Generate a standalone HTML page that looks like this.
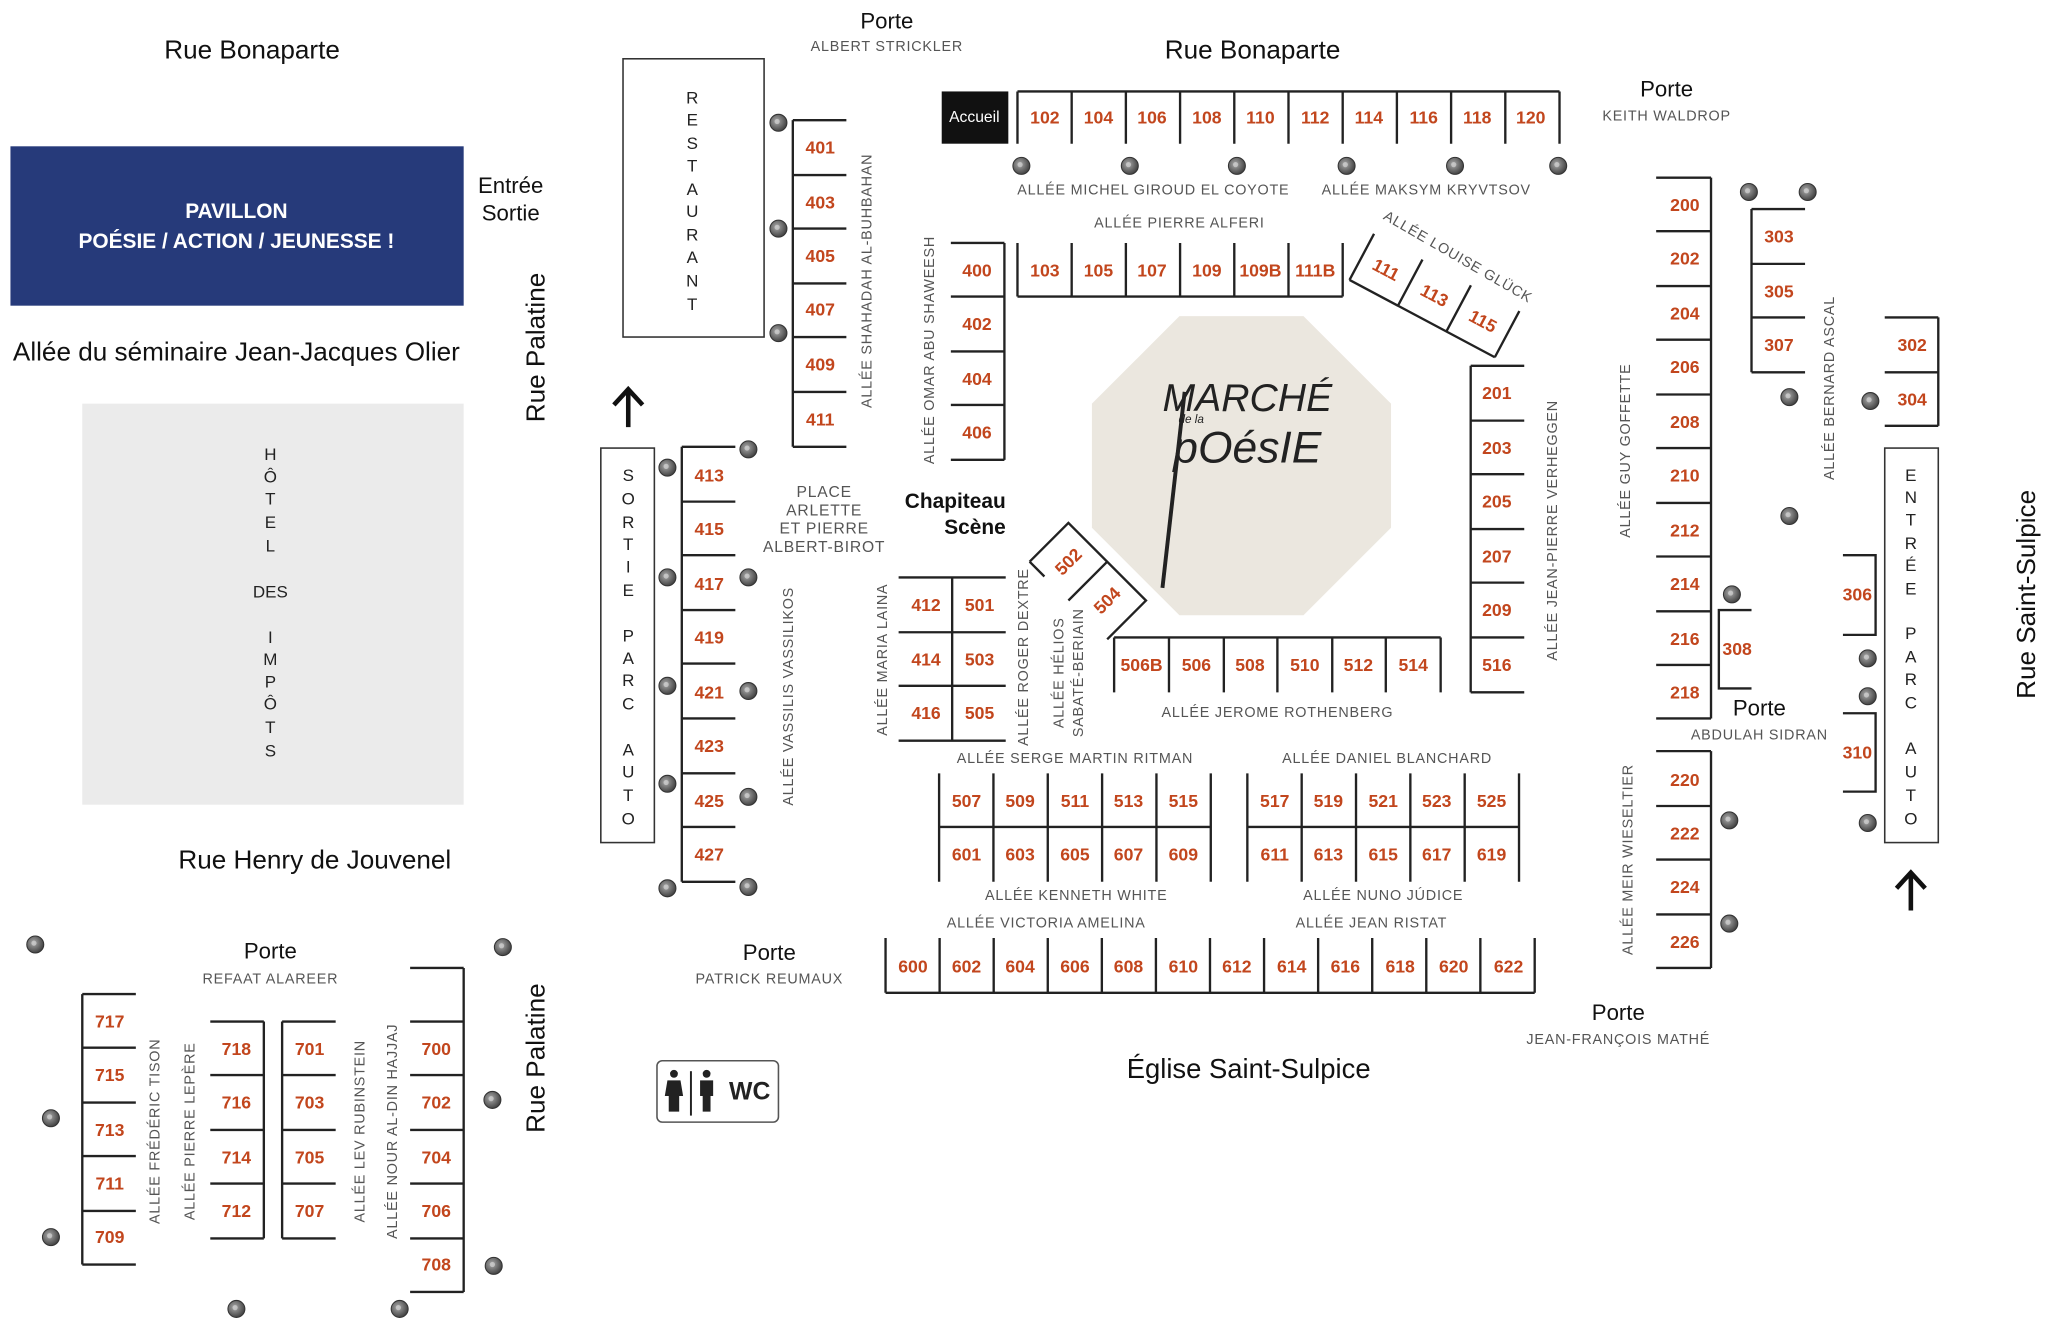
<!DOCTYPE html>
<html><head><meta charset="utf-8"><style>
html,body{margin:0;padding:0;background:#fff}
svg{display:block}
.n{font-family:"Liberation Sans",sans-serif;font-size:13.5px;font-weight:bold;fill:#c2461d;text-anchor:middle;dominant-baseline:central}
.s{font-family:"Liberation Sans",sans-serif;font-size:11px;fill:#555;text-anchor:middle;dominant-baseline:central;letter-spacing:0.6px}
.t{font-family:"Liberation Sans",sans-serif;font-size:20px;fill:#111;text-anchor:middle;dominant-baseline:central}
.p{font-family:"Liberation Sans",sans-serif;font-size:17px;fill:#111;text-anchor:middle;dominant-baseline:central}
.l{font-family:"Liberation Sans",sans-serif;font-size:13px;fill:#222;text-anchor:middle;dominant-baseline:central}
.b{fill:none;stroke:#222;stroke-width:1.8}
</style></head><body>
<svg width="2048" height="1322" viewBox="0 0 1568 1012" preserveAspectRatio="none" xmlns="http://www.w3.org/2000/svg">
<defs><radialGradient id="tr" cx="40%" cy="40%" r="60%"><stop offset="0" stop-color="#aaa"/><stop offset="1" stop-color="#444"/></radialGradient>
<g id="tree"><circle r="6.5" fill="url(#tr)" stroke="#333" stroke-width="0.8"/><circle r="2" cx="-1" cy="-1" fill="#ddd" opacity=".6"/></g></defs>

<text class="t" x="193" y="38">Rue Bonaparte</text>
<rect x="8" y="112" width="347" height="122" fill="#263a7a"/>
<text class="p" x="181" y="162" style="fill:#fff;font-weight:bold;font-size:16px">PAVILLON</text>
<text class="p" x="181" y="185" style="fill:#fff;font-weight:bold;font-size:16px">POÉSIE / ACTION / JEUNESSE !</text>
<text class="p" x="391" y="142">Entrée</text>
<text class="p" x="391" y="163">Sortie</text>
<text class="t" x="181" y="269">Allée du séminaire Jean-Jacques Olier</text>
<rect x="63" y="309" width="292" height="307" fill="#ebebeb"/>
<g class="l"><text x="207" y="348">H</text><text x="207" y="365">Ô</text><text x="207" y="382">T</text><text x="207" y="400">E</text><text x="207" y="418">L</text><text x="207" y="453">DES</text><text x="207" y="488">I</text><text x="207" y="505">M</text><text x="207" y="522">P</text><text x="207" y="539">Ô</text><text x="207" y="557">T</text><text x="207" y="575">S</text></g>
<text class="t" x="241" y="658">Rue Henry de Jouvenel</text>
<text class="t" transform="translate(410,266) rotate(-90)">Rue Palatine</text>
<text class="t" transform="translate(410,810) rotate(-90)">Rue Palatine</text>
<text class="t" transform="translate(1551,455) rotate(-90)">Rue Saint-Sulpice</text>

<path d="M481 327 V300 M470 310 L481 298 L492 310" stroke="#111" stroke-width="3.5" fill="none"/>
<path d="M1463 697 V670 M1452 680 L1463 668 L1474 680" stroke="#111" stroke-width="3.5" fill="none"/>

<rect x="477" y="45" width="108" height="213" fill="none" stroke="#333" stroke-width="1.2"/>
<g class="l"><text x="530" y="75">R</text><text x="530" y="92">E</text><text x="530" y="110">S</text><text x="530" y="127">T</text><text x="530" y="145">A</text><text x="530" y="162">U</text><text x="530" y="180">R</text><text x="530" y="197">A</text><text x="530" y="215">N</text><text x="530" y="233">T</text></g>
<rect x="460" y="343" width="41" height="302" fill="none" stroke="#333" stroke-width="1.2"/>
<g class="l"><text x="481" y="364">S</text><text x="481" y="382">O</text><text x="481" y="400">R</text><text x="481" y="417">T</text><text x="481" y="434">I</text><text x="481" y="452">E</text><text x="481" y="487">P</text><text x="481" y="504">A</text><text x="481" y="521">R</text><text x="481" y="539">C</text><text x="481" y="574">A</text><text x="481" y="591">U</text><text x="481" y="609">T</text><text x="481" y="627">O</text></g>
<rect x="1443" y="343" width="41" height="302" fill="none" stroke="#333" stroke-width="1.2"/>
<g class="l"><text x="1463" y="364">E</text><text x="1463" y="381">N</text><text x="1463" y="398">T</text><text x="1463" y="416">R</text><text x="1463" y="433">É</text><text x="1463" y="451">E</text><text x="1463" y="485">P</text><text x="1463" y="503">A</text><text x="1463" y="520">R</text><text x="1463" y="538">C</text><text x="1463" y="573">A</text><text x="1463" y="591">U</text><text x="1463" y="609">T</text><text x="1463" y="627">O</text></g>

<text class="p" x="679" y="16">Porte</text><text class="s" x="679" y="36">ALBERT STRICKLER</text>
<text class="p" x="1276" y="68">Porte</text><text class="s" x="1276" y="89">KEITH WALDROP</text>
<text class="p" x="1347" y="542">Porte</text><text class="s" x="1347" y="563">ABDULAH SIDRAN</text>
<text class="p" x="1239" y="775">Porte</text><text class="s" x="1239" y="796">JEAN-FRANÇOIS MATHÉ</text>
<text class="p" x="589" y="729">Porte</text><text class="s" x="589" y="750">PATRICK REUMAUX</text>
<text class="p" x="207" y="728">Porte</text><text class="s" x="207" y="750">REFAAT ALAREER</text>
<text class="t" x="959" y="38">Rue Bonaparte</text>
<text class="t" x="956" y="818" style="font-size:21px">Église Saint-Sulpice</text>

<polygon points="903,242 998,242 1065,309 1065,404 998,471 903,471 836,404 836,309" fill="#ebe7df"/>
<text x="955" y="305" style="font-family:'Liberation Sans',sans-serif;font-style:italic;font-size:30px;fill:#222;text-anchor:middle;dominant-baseline:central">MARCHÉ</text>
<text x="912" y="324" style="font-family:'Liberation Sans',sans-serif;font-style:italic;font-size:9px;fill:#222;text-anchor:middle">de la</text>
<text x="955" y="343" style="font-family:'Liberation Sans',sans-serif;font-style:italic;font-size:34px;fill:#222;text-anchor:middle;dominant-baseline:central">pOésIE</text>
<path d="M907 300 L890 450" stroke="#222" stroke-width="3"/>

<rect x="721" y="70" width="51" height="40" fill="#111"/>
<text x="746" y="90" style="font-family:'Liberation Sans',sans-serif;font-size:12px;fill:#fff;text-anchor:middle;dominant-baseline:central">Accueil</text>
<path class="b" d="M779 70 H1194 M779 70V110 M820.5 70V110 M862 70V110 M903.5 70V110 M945 70V110 M986.5 70V110 M1028 70V110 M1069.5 70V110 M1111 70V110 M1152.5 70V110 M1194 70V110"/>
<g class="n"><text x="800" y="90">102</text><text x="841" y="90">104</text><text x="882" y="90">106</text><text x="924" y="90">108</text><text x="965" y="90">110</text><text x="1007" y="90">112</text><text x="1048" y="90">114</text><text x="1090" y="90">116</text><text x="1131" y="90">118</text><text x="1172" y="90">120</text></g>
<text class="s" x="883" y="146">ALLÉE MICHEL GIROUD EL COYOTE</text>
<text class="s" x="1092" y="146">ALLÉE MAKSYM KRYVTSOV</text>
<text class="s" x="903" y="171">ALLÉE PIERRE ALFERI</text>
<path class="b" d="M779 227 H1028 M779 186V227 M820.5 186V227 M862 186V227 M903.5 186V227 M945 186V227 M986.5 186V227 M1028 186V227"/>
<g class="n"><text x="800" y="207">103</text><text x="841" y="207">105</text><text x="882" y="207">107</text><text x="924" y="207">109</text><text x="965" y="207">109B</text><text x="1007" y="207">111B</text></g>
<g transform="translate(1052,179) rotate(28)">
<path class="b" d="M0 40 H126 M0 0V40 M42 0V40 M84 0V40 M126 0V40"/>
<g class="n"><text x="21" y="20">111</text><text x="63" y="20">113</text><text x="105" y="20">115</text></g>
</g>
<text class="s" transform="translate(1116,197) rotate(30)">ALLÉE LOUISE GLÜCK</text>

<path class="b" d="M769 186V352 M728 186H769 M728 227H769 M728 269H769 M728 310H769 M728 352H769"/>
<g class="n"><text x="748" y="207">400</text><text x="748" y="248">402</text><text x="748" y="290">404</text><text x="748" y="331">406</text></g>
<text class="s" transform="translate(712,268) rotate(-90)">ALLÉE OMAR ABU SHAWEESH</text>
<path class="b" d="M607 92V342 M607 92H648 M607 134H648 M607 175H648 M607 217H648 M607 258H648 M607 300H648 M607 342H648"/>
<g class="n"><text x="628" y="113">401</text><text x="628" y="155">403</text><text x="628" y="196">405</text><text x="628" y="237">407</text><text x="628" y="279">409</text><text x="628" y="321">411</text></g>
<text class="s" transform="translate(664,215) rotate(-90)">ALLÉE SHAHADAH AL-BUHBAHAN</text>
<path class="b" d="M522 342V675 M522 342H563 M522 384H563 M522 425H563 M522 467H563 M522 508H563 M522 550H563 M522 592H563 M522 633H563 M522 675H563"/>
<g class="n"><text x="543" y="364">413</text><text x="543" y="405">415</text><text x="543" y="447">417</text><text x="543" y="488">419</text><text x="543" y="530">421</text><text x="543" y="571">423</text><text x="543" y="613">425</text><text x="543" y="654">427</text></g>
<text class="s" transform="translate(604,533) rotate(-90)">ALLÉE VASSILIS VASSILIKOS</text>
<g class="s" style="font-size:12px"><text x="631" y="377">PLACE</text><text x="631" y="391">ARLETTE</text><text x="631" y="405">ET PIERRE</text><text x="631" y="419">ALBERT-BIROT</text></g>
<text class="p" x="770" y="384" style="text-anchor:end;font-weight:bold;font-size:16px">Chapiteau</text>
<text class="p" x="770" y="404" style="text-anchor:end;font-weight:bold;font-size:16px">Scène</text>

<path class="b" d="M688 442H770 M729 442V567 M688 484H770 M688 525H770 M688 567H770"/>
<g class="n"><text x="709" y="463">412</text><text x="750" y="463">501</text><text x="709" y="505">414</text><text x="750" y="505">503</text><text x="709" y="546">416</text><text x="750" y="546">505</text></g>
<text class="s" transform="translate(676,505) rotate(-90)">ALLÉE MARIA LAINA</text>
<text class="s" transform="translate(784,503) rotate(-90)">ALLÉE ROGER DEXTRE</text>
<text class="s" transform="translate(811,515) rotate(-90)">ALLÉE HÉLIOS</text>
<text class="s" transform="translate(826,515) rotate(-90)">SABATÉ-BERIAIN</text>
<g transform="translate(818,430) rotate(-45)">
<path class="b" d="M-21 -21H21V63H-21 M-21 -21V-5 M-21 21H21"/>
<g class="n"><text x="0" y="0">502</text><text x="0" y="42">504</text></g>
</g>
<path class="b" d="M853 488H1103 M853 488V530 M895 488V530 M937 488V530 M978 488V530 M1020 488V530 M1061 488V530 M1103 488V530"/>
<g class="n"><text x="874" y="509">506B</text><text x="916" y="509">506</text><text x="957" y="509">508</text><text x="999" y="509">510</text><text x="1040" y="509">512</text><text x="1082" y="509">514</text></g>
<text class="s" x="978" y="546">ALLÉE JEROME ROTHENBERG</text>
<path class="b" d="M1126 280V530 M1126 280H1167 M1126 322H1167 M1126 363H1167 M1126 405H1167 M1126 446H1167 M1126 488H1167 M1126 530H1167"/>
<g class="n"><text x="1146" y="301">201</text><text x="1146" y="343">203</text><text x="1146" y="384">205</text><text x="1146" y="426">207</text><text x="1146" y="467">209</text><text x="1146" y="509">516</text></g>
<text class="s" transform="translate(1189,406) rotate(-90)">ALLÉE JEAN-PIERRE VERHEGGEN</text>

<text class="s" x="823" y="581">ALLÉE SERGE MARTIN RITMAN</text>
<text class="s" x="1062" y="581">ALLÉE DANIEL BLANCHARD</text>
<path class="b" d="M719 592V675 M760.6 592V675 M802.2 592V675 M843.8 592V675 M885.4 592V675 M927 592V675 M719 633H927 M955 592V675 M996.6 592V675 M1038.2 592V675 M1079.8 592V675 M1121.4 592V675 M1163 592V675 M955 633H1163"/>
<g class="n"><text x="740" y="613">507</text><text x="781" y="613">509</text><text x="823" y="613">511</text><text x="864" y="613">513</text><text x="906" y="613">515</text>
<text x="740" y="654">601</text><text x="781" y="654">603</text><text x="823" y="654">605</text><text x="864" y="654">607</text><text x="906" y="654">609</text>
<text x="976" y="613">517</text><text x="1017" y="613">519</text><text x="1059" y="613">521</text><text x="1100" y="613">523</text><text x="1142" y="613">525</text>
<text x="976" y="654">611</text><text x="1017" y="654">613</text><text x="1059" y="654">615</text><text x="1100" y="654">617</text><text x="1142" y="654">619</text></g>
<text class="s" x="824" y="686">ALLÉE KENNETH WHITE</text>
<text class="s" x="1059" y="686">ALLÉE NUNO JÚDICE</text>
<text class="s" x="801" y="707">ALLÉE VICTORIA AMELINA</text>
<text class="s" x="1050" y="707">ALLÉE JEAN RISTAT</text>
<path class="b" d="M678 760H1175 M678 718V760 M719.4 718V760 M760.8 718V760 M802.2 718V760 M843.6 718V760 M885 718V760 M926.4 718V760 M967.8 718V760 M1009.2 718V760 M1050.6 718V760 M1092 718V760 M1133.4 718V760 M1175 718V760"/>
<g class="n"><text x="699" y="740">600</text><text x="740" y="740">602</text><text x="781" y="740">604</text><text x="823" y="740">606</text><text x="864" y="740">608</text><text x="906" y="740">610</text><text x="947" y="740">612</text><text x="989" y="740">614</text><text x="1030" y="740">616</text><text x="1072" y="740">618</text><text x="1113" y="740">620</text><text x="1155" y="740">622</text></g>

<path class="b" d="M1310 136V550 M1268 136H1310 M1268 177H1310 M1268 219H1310 M1268 260H1310 M1268 302H1310 M1268 343H1310 M1268 385H1310 M1268 426H1310 M1268 468H1310 M1268 509H1310 M1268 550H1310"/>
<g class="n"><text x="1290" y="157">200</text><text x="1290" y="198">202</text><text x="1290" y="240">204</text><text x="1290" y="281">206</text><text x="1290" y="323">208</text><text x="1290" y="364">210</text><text x="1290" y="406">212</text><text x="1290" y="447">214</text><text x="1290" y="489">216</text><text x="1290" y="530">218</text></g>
<text class="s" transform="translate(1245,345) rotate(-90)">ALLÉE GUY GOFFETTE</text>
<path class="b" d="M1310 575V741 M1268 575H1310 M1268 617H1310 M1268 658H1310 M1268 700H1310 M1268 741H1310"/>
<g class="n"><text x="1290" y="597">220</text><text x="1290" y="638">222</text><text x="1290" y="679">224</text><text x="1290" y="721">226</text></g>
<text class="s" transform="translate(1247,658) rotate(-90)">ALLÉE MEIR WIESELTIER</text>
<path class="b" d="M1341 160V285 M1341 160H1382 M1341 202H1382 M1341 243H1382 M1341 285H1382"/>
<g class="n"><text x="1362" y="181">303</text><text x="1362" y="223">305</text><text x="1362" y="264">307</text></g>
<text class="s" transform="translate(1401,297) rotate(-90)">ALLÉE BERNARD ASCAL</text>
<path class="b" d="M1484 243V326 M1443 243H1484 M1443 285H1484 M1443 326H1484"/>
<g class="n"><text x="1464" y="264">302</text><text x="1464" y="306">304</text></g>
<path class="b" d="M1411 425H1436V486H1411 M1341 467H1316V527H1341 M1411 546H1436V606H1411"/>
<g class="n"><text x="1422" y="455">306</text><text x="1330" y="497">308</text><text x="1422" y="576">310</text></g>

<path class="b" d="M63 761V968 M63 761H104 M63 802H104 M63 844H104 M63 885H104 M63 927H104 M63 968H104"/>
<g class="n"><text x="84" y="782">717</text><text x="84" y="823">715</text><text x="84" y="865">713</text><text x="84" y="906">711</text><text x="84" y="947">709</text></g>
<path class="b" d="M202 782V948 M161 782H202 M161 823H202 M161 865H202 M161 906H202 M161 948H202"/>
<g class="n"><text x="181" y="803">718</text><text x="181" y="844">716</text><text x="181" y="886">714</text><text x="181" y="927">712</text></g>
<path class="b" d="M216 782V948 M216 782H257 M216 823H257 M216 865H257 M216 906H257 M216 948H257"/>
<g class="n"><text x="237" y="803">701</text><text x="237" y="844">703</text><text x="237" y="886">705</text><text x="237" y="927">707</text></g>
<path class="b" d="M355 741V989 M314 741H355 M314 782H355 M314 823H355 M314 865H355 M314 906H355 M314 948H355 M314 989H355"/>
<g class="n"><text x="334" y="803">700</text><text x="334" y="844">702</text><text x="334" y="886">704</text><text x="334" y="927">706</text><text x="334" y="968">708</text></g>
<text class="s" transform="translate(119,866) rotate(-90)">ALLÉE FRÉDÉRIC TISON</text>
<text class="s" transform="translate(146,866) rotate(-90)">ALLÉE PIERRE LEPÈRE</text>
<text class="s" transform="translate(276,866) rotate(-90)">ALLÉE LEV RUBINSTEIN</text>
<text class="s" transform="translate(301,866) rotate(-90)">ALLÉE NOUR AL-DIN HAJJAJ</text>

<rect x="503" y="812" width="93" height="47" rx="4" fill="#fff" stroke="#555" stroke-width="1.2"/>
<g fill="#222"><circle cx="516" cy="822" r="3"/><path d="M511 827h10l2 12h-3v12h-8v-12h-3z"/><circle cx="541" cy="822" r="3"/><path d="M536 827h10v12h-2v12h-6v-12h-2z"/></g>
<path d="M529 820V854" stroke="#222" stroke-width="1.5"/>
<text x="574" y="836" style="font-family:'Liberation Sans',sans-serif;font-weight:bold;font-size:19px;fill:#222;text-anchor:middle;dominant-baseline:central">WC</text>

<g>
<use href="#tree" x="596" y="94"/><use href="#tree" x="596" y="175"/><use href="#tree" x="596" y="255"/><use href="#tree" x="573" y="344"/><use href="#tree" x="511" y="358"/><use href="#tree" x="511" y="442"/><use href="#tree" x="573" y="442"/><use href="#tree" x="511" y="525"/><use href="#tree" x="573" y="529"/><use href="#tree" x="511" y="600"/><use href="#tree" x="573" y="610"/><use href="#tree" x="511" y="680"/><use href="#tree" x="573" y="679"/>
<use href="#tree" x="782" y="127"/><use href="#tree" x="865" y="127"/><use href="#tree" x="947" y="127"/><use href="#tree" x="1031" y="127"/><use href="#tree" x="1114" y="127"/><use href="#tree" x="1193" y="127"/>
<use href="#tree" x="1339" y="147"/><use href="#tree" x="1384" y="147"/><use href="#tree" x="1370" y="304"/><use href="#tree" x="1432" y="307"/><use href="#tree" x="1370" y="395"/><use href="#tree" x="1326" y="455"/><use href="#tree" x="1430" y="504"/><use href="#tree" x="1430" y="533"/><use href="#tree" x="1324" y="628"/><use href="#tree" x="1430" y="630"/><use href="#tree" x="1324" y="707"/>
<use href="#tree" x="27" y="723"/><use href="#tree" x="385" y="725"/><use href="#tree" x="39" y="856"/><use href="#tree" x="377" y="842"/><use href="#tree" x="39" y="947"/><use href="#tree" x="378" y="969"/><use href="#tree" x="181" y="1002"/><use href="#tree" x="306" y="1002"/>
</g>
</svg>
</body></html>
